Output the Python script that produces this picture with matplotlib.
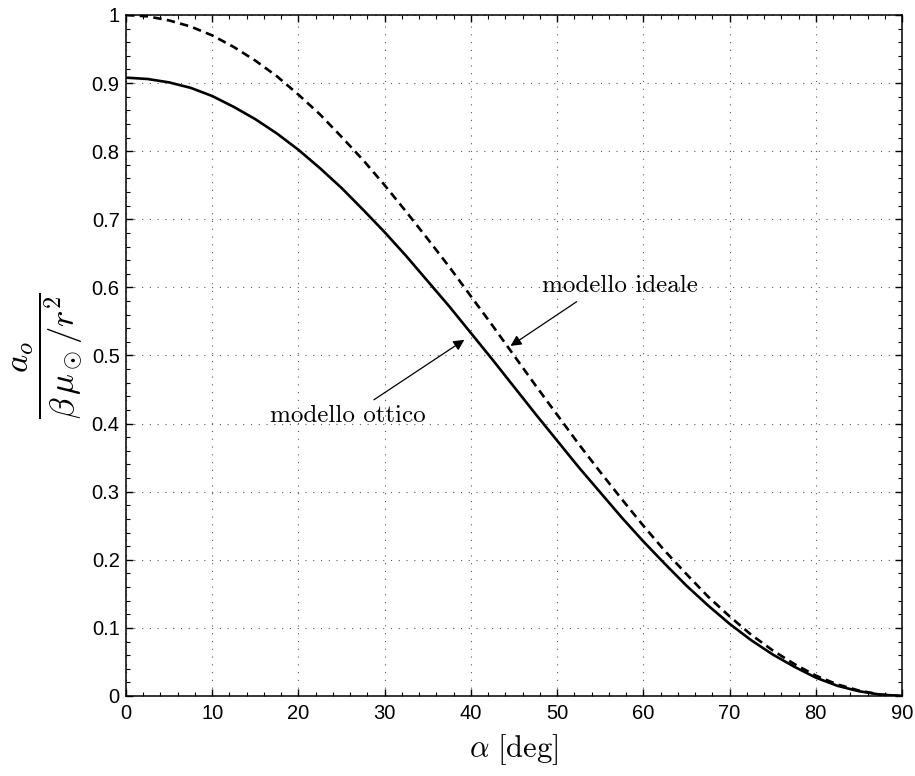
import matplotlib
matplotlib.use("Agg")
import matplotlib.pyplot as plt

plt.rcParams['mathtext.fontset'] = 'cm'
plt.rcParams['font.family'] = ['Liberation Sans', 'DejaVu Sans']

# angolo di inclinazione della vela [deg]
alpha_deg = [0, 2.5, 5, 7.5, 10, 12.5, 15, 17.5, 20, 22.5, 25, 27.5, 30, 32.5,
             35, 37.5, 40, 42.5, 45, 47.5, 50, 52.5, 55, 57.5, 60, 62.5, 65,
             67.5, 70, 72.5, 75, 77.5, 80, 82.5, 85, 87.5, 90]

# accelerazione adimensionale, modello ideale
a_ideale = [1.000, 0.998, 0.992, 0.983, 0.970, 0.953, 0.933, 0.910, 0.883,
            0.854, 0.821, 0.787, 0.750, 0.711, 0.671, 0.630, 0.587, 0.544,
            0.500, 0.456, 0.413, 0.370, 0.329, 0.289, 0.250, 0.213, 0.179,
            0.146, 0.117, 0.090, 0.067, 0.047, 0.030, 0.017, 0.008, 0.002,
            0.000]

# accelerazione adimensionale, modello ottico
a_ottico = [0.908, 0.906, 0.901, 0.893, 0.881, 0.865, 0.847, 0.826, 0.802,
            0.775, 0.746, 0.714, 0.681, 0.646, 0.609, 0.572, 0.533, 0.494,
            0.454, 0.414, 0.375, 0.336, 0.299, 0.262, 0.227, 0.194, 0.162,
            0.133, 0.106, 0.082, 0.061, 0.043, 0.027, 0.015, 0.007, 0.002,
            0.000]

x_ticks = [0, 10, 20, 30, 40, 50, 60, 70, 80, 90]
y_ticks = [0, 0.1, 0.2, 0.3, 0.4, 0.5, 0.6, 0.7, 0.8, 0.9, 1]
y_ticklabels = ['0', '0.1', '0.2', '0.3', '0.4', '0.5', '0.6', '0.7', '0.8', '0.9', '1']

fig = plt.figure(figsize=(9.15, 7.76), dpi=100)
ax = fig.add_axes([0.1377, 0.1031, 0.8481, 0.8776])

ax.plot(alpha_deg, a_ottico, color='black', lw=1.9)
ax.plot(alpha_deg, a_ideale, color='black', lw=1.9, linestyle=(0, (3.2, 2.0)))

ax.set_xlim(0, 90)
ax.set_ylim(0, 1)
ax.set_xticks(x_ticks)
ax.set_yticks(y_ticks)
ax.set_yticklabels(y_ticklabels)
ax.set_xticks(range(0, 91, 2), minor=True)
ax.set_yticks([i * 0.02 for i in range(51)], minor=True)
ax.tick_params(which='both', direction='in', top=True, right=True,
               labelsize=14.5, color='black')
ax.tick_params(which='major', length=5, width=1.0)
ax.tick_params(which='minor', length=3, width=0.8)
ax.tick_params(axis='x', which='major', pad=6)
ax.tick_params(axis='y', which='major', pad=4.5)
for sp in ax.spines.values():
    sp.set_linewidth(1.1)

ax.grid(True, which='major', color='0.35', lw=0.8, linestyle=(0, (1, 6)))

ax.set_xlabel(r'$\alpha\ [\mathrm{deg}]$', fontsize=22, labelpad=6)
ax.set_ylabel(r'$\dfrac{a_o}{\beta\,\mu_\odot/r^2}$', fontsize=25, labelpad=5)

arrow = dict(arrowstyle='-|>', color='black', lw=0.9,
             mutation_scale=16, shrinkA=0, shrinkB=0)
ax.text(25.75, 0.411, 'modello ottico', ha='center', va='center',
        fontsize=18, family='cmr10')
ax.annotate('', xy=(39.24, 0.523), xytext=(28.76, 0.435), arrowprops=arrow)
ax.text(57.3, 0.602, 'modello ideale', ha='center', va='center',
        fontsize=18, family='cmr10')
ax.annotate('', xy=(44.6, 0.514), xytext=(52.27, 0.579), arrowprops=arrow)

fig.savefig('out.png', dpi=100)
